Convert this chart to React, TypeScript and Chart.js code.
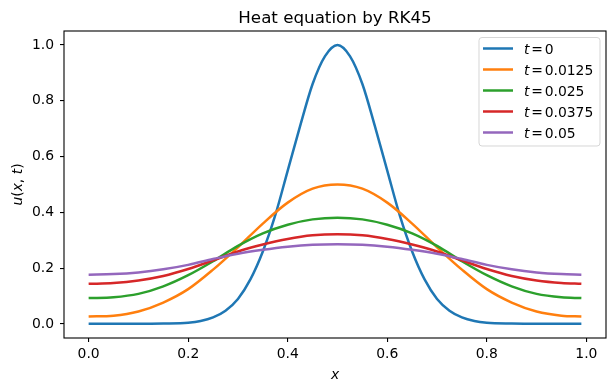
import React, { useEffect, useRef } from 'react';
import { Chart, registerables } from 'chart.js';

Chart.register(...registerables);

// ---- data ----
const titleText = 'Heat equation by RK45';
const seriesLabels = ['0', '0.0125', '0.025', '0.0375', '0.05'];
const seriesColors = ['#1f77b4', '#ff7f0e', '#2ca02c', '#d62728', '#9467bd'];

const xFine = [
  0, 0.05, 0.1, 0.15, 0.2, 0.225, 0.25, 0.275, 0.3, 0.325, 0.35, 0.375, 0.4, 0.425, 0.45, 0.475, 0.5,
  0.525, 0.55, 0.575, 0.6, 0.625, 0.65, 0.675, 0.7, 0.725, 0.75, 0.775, 0.8, 0.85, 0.9, 0.95, 0.99,
];
const uT0 = [
  0.001, 0.001, 0.001, 0.002, 0.005, 0.011, 0.024, 0.048, 0.09, 0.16, 0.26, 0.39, 0.55, 0.71, 0.86, 0.96, 1.0,
  0.96, 0.86, 0.71, 0.55, 0.39, 0.26, 0.16, 0.09, 0.048, 0.024, 0.011, 0.005, 0.002, 0.001, 0.001, 0.001,
];

const xCoarse = [
  0, 0.05, 0.1, 0.15, 0.2, 0.25, 0.3, 0.35, 0.4, 0.45, 0.5, 0.55, 0.6, 0.65, 0.7, 0.75, 0.8, 0.85, 0.9, 0.95, 0.99,
];
const uT1 = [
  0.027, 0.03, 0.045, 0.077, 0.125, 0.195, 0.275, 0.36, 0.435, 0.485, 0.5,
  0.485, 0.435, 0.36, 0.275, 0.195, 0.125, 0.077, 0.045, 0.03, 0.027,
];
const uT2 = [
  0.093, 0.096, 0.108, 0.135, 0.175, 0.225, 0.28, 0.325, 0.356, 0.375, 0.381,
  0.375, 0.356, 0.325, 0.28, 0.225, 0.175, 0.135, 0.108, 0.096, 0.093,
];
const uT3 = [
  0.144, 0.147, 0.156, 0.172, 0.197, 0.228, 0.26, 0.285, 0.305, 0.318, 0.322,
  0.318, 0.305, 0.285, 0.26, 0.228, 0.197, 0.172, 0.156, 0.147, 0.144,
];
const uT4 = [
  0.177, 0.179, 0.185, 0.196, 0.212, 0.233, 0.252, 0.266, 0.277, 0.284, 0.286,
  0.284, 0.277, 0.266, 0.252, 0.233, 0.212, 0.196, 0.185, 0.179, 0.177,
];

const xTicks = [0, 0.2, 0.4, 0.6, 0.8, 1.0];
const yTicks = [0, 0.2, 0.4, 0.6, 0.8, 1.0];

const FONT = '"DejaVu Sans"';
const TICK_SIZE = 13.9;
const LINE_W = 2.5;

type Seg = [string, boolean, number?];

function drawRich(ctx: CanvasRenderingContext2D, segs: Seg[], x: number, y: number, size: number, align: 'left' | 'center') {
  const widths = segs.map(([t, it]) => {
    ctx.font = `${it ? 'italic ' : ''}${size}px ${FONT}`;
    return ctx.measureText(t).width;
  });
  const total = widths.reduce((a, b) => a + b, 0) + segs.reduce((a, s) => a + 2 * (s[2] || 0), 0);
  let cx = align === 'center' ? x - total / 2 : x;
  ctx.textAlign = 'left';
  segs.forEach(([t, it, pad], i) => {
    cx += pad || 0;
    ctx.font = `${it ? 'italic ' : ''}${size}px ${FONT}`;
    ctx.fillText(t, cx, y);
    cx += widths[i] + (pad || 0);
  });
}

const decorPlugin = {
  id: 'decor',
  afterDraw(chart: any) {
    const ctx: CanvasRenderingContext2D = chart.ctx;
    const a = chart.chartArea;
    ctx.save();
    // frame
    ctx.strokeStyle = '#000';
    ctx.lineWidth = 1.1;
    ctx.strokeRect(a.left, a.top, a.right - a.left, a.bottom - a.top);

    ctx.fillStyle = '#000';
    ctx.textBaseline = 'alphabetic';
    // title
    ctx.font = `16.7px ${FONT}`;
    ctx.textAlign = 'center';
    ctx.fillText(titleText, (a.left + a.right) / 2, a.top - 8.5);

    // x label
    drawRich(ctx, [['x', true]], (a.left + a.right) / 2, 379, TICK_SIZE, 'center');

    // y label
    ctx.save();
    ctx.translate(22, (a.top + a.bottom) / 2);
    ctx.rotate(-Math.PI / 2);
    drawRich(ctx, [['u', true], ['(', false], ['x', true], [', ', false], ['t', true], [')', false]], 0, 0, TICK_SIZE, 'center');
    ctx.restore();

    // legend
    const lx = 479, ly = 37.5, lw = 121, lh = 108.5, r = 3;
    ctx.beginPath();
    ctx.moveTo(lx + r, ly);
    ctx.lineTo(lx + lw - r, ly);
    ctx.arcTo(lx + lw, ly, lx + lw, ly + r, r);
    ctx.lineTo(lx + lw, ly + lh - r);
    ctx.arcTo(lx + lw, ly + lh, lx + lw - r, ly + lh, r);
    ctx.lineTo(lx + r, ly + lh);
    ctx.arcTo(lx, ly + lh, lx, ly + lh - r, r);
    ctx.lineTo(lx, ly + r);
    ctx.arcTo(lx, ly, lx + r, ly, r);
    ctx.closePath();
    ctx.fillStyle = 'rgba(255,255,255,0.8)';
    ctx.fill();
    ctx.strokeStyle = 'rgba(204,204,204,0.8)';
    ctx.lineWidth = 1;
    ctx.stroke();

    seriesLabels.forEach((lab, i) => {
      const rowY = 48.5 + i * 21;
      ctx.strokeStyle = seriesColors[i];
      ctx.lineWidth = LINE_W;
      ctx.beginPath();
      ctx.moveTo(483, rowY);
      ctx.lineTo(513, rowY);
      ctx.stroke();
      ctx.fillStyle = '#000';
      drawRich(ctx, [['t', true], ['=', false, 1.8], [lab, false]], 524, rowY + 5, TICK_SIZE, 'left');
    });
    ctx.restore();
  },
};

export default function App() {
  const ref = useRef<HTMLCanvasElement | null>(null);
  useEffect(() => {
    document.body.style.margin = '0';
    const canvas = ref.current;
    if (!canvas) return;
    const series = [
      { xs: xFine, ys: uT0 },
      { xs: xCoarse, ys: uT1 },
      { xs: xCoarse, ys: uT2 },
      { xs: xCoarse, ys: uT3 },
      { xs: xCoarse, ys: uT4 },
    ];
    const datasets = series.map((s, i) => ({
      label: 't = ' + seriesLabels[i],
      data: s.xs.map((x, j) => ({ x, y: s.ys[j] })),
      borderColor: seriesColors[i],
      backgroundColor: seriesColors[i],
      borderWidth: LINE_W,
      pointRadius: 0,
      fill: false,
      cubicInterpolationMode: 'monotone' as const,
      order: series.length - i,
    }));
    const tickFont = { family: 'DejaVu Sans', size: TICK_SIZE };
    const chart = new Chart(canvas, {
      type: 'line',
      data: { datasets },
      options: {
        animation: false,
        responsive: false,
        events: [],
        layout: { padding: { top: 31, right: 10, left: 0, bottom: 0 } },
        plugins: { legend: { display: false }, title: { display: false }, tooltip: { enabled: false } },
        scales: {
          x: {
            type: 'linear',
            min: -0.0495,
            max: 1.0395,
            afterBuildTicks: (s: any) => { s.ticks = xTicks.map((v) => ({ value: v })); },
            afterFit: (s: any) => { s.height = 53; },
            grid: { drawOnChartArea: false, drawTicks: true, tickLength: 4, color: '#000', lineWidth: 1.1 },
            border: { display: false },
            ticks: { padding: 4, color: '#000', font: tickFont, maxRotation: 0, autoSkip: false, callback: (v: any) => Number(v).toFixed(1) },
          },
          y: {
            type: 'linear',
            min: -0.05,
            max: 1.05,
            afterBuildTicks: (s: any) => { s.ticks = yTicks.map((v) => ({ value: v })); },
            afterFit: (s: any) => { s.width = 64; },
            grid: { drawOnChartArea: false, drawTicks: true, tickLength: 4, color: '#000', lineWidth: 1.1 },
            border: { display: false },
            ticks: { padding: 6, color: '#000', font: tickFont, autoSkip: false, callback: (v: any) => Number(v).toFixed(1) },
          },
        },
      },
      plugins: [decorPlugin],
    });
    return () => chart.destroy();
  }, []);
  return (
    <div style={{ width: 616, height: 391 }}>
      <canvas ref={ref} width={616} height={391} style={{ display: 'block' }} />
    </div>
  );
}
